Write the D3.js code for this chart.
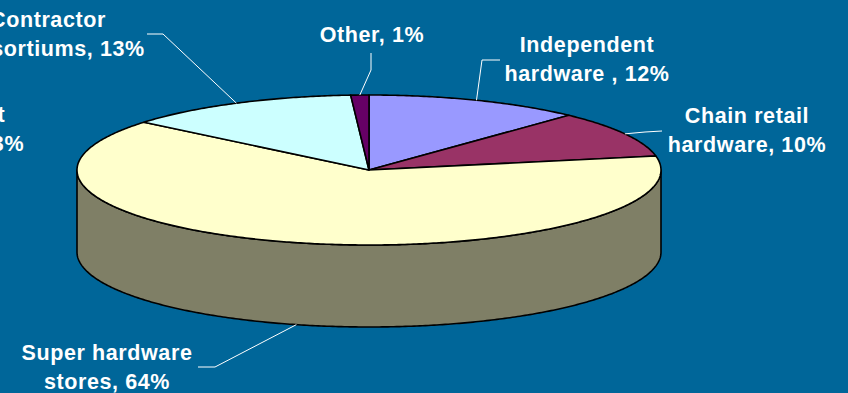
<!DOCTYPE html>
<html>
<head>
<meta charset="utf-8">
<script src="https://cdn.jsdelivr.net/npm/d3@7"></script>
<style>
  html, body { margin: 0; padding: 0; background: #006699; overflow: hidden; }
  svg { display: block; }
  text { font-family: "Liberation Sans", Arial, sans-serif; font-weight: bold; fill: #ffffff; }
</style>
</head>
<body>
<svg id="chart" width="848" height="393"></svg>
<script>
// Sales channel shares, clockwise from 12 o'clock
const categories = ["Independent hardware", "Chain retail hardware", "Super hardware stores", "Contractor consortiums", "Other"];
const shares = [12, 10, 64, 13, 1];
const labelLines = [
  ["Independent", "hardware , 12%"],
  ["Chain retail", "hardware, 10%"],
  ["Super hardware", "stores, 64%"],
  ["Contractor", "consortiums, 13%"],
  ["Other, 1%"]
];
// Label of a neighbouring chart that runs off the left edge of the slide
const edgeLabelLines = ["Direct", "sales, 3%"];

const topColors = ["#9999ff", "#993366", "#ffffcc", "#ccffff", "#660066"];
const sideColors = ["#4d4d80", "#4d1a33", "#7f7f66", "#668080", "#330033"];

// Geometry of the tilted disc
const cx = 369, cy = 170, rx = 292, ry = 75, depth = 82;

// Label layout: text centre, first baseline, and leader-line bend/end points
const layout = [
  { x: 587, y: 52, leader: [[482, 60], [500, 60]] },
  { x: 747, y: 123, leader: [[645, 132], [662, 131]] },
  { x: 107, y: 360, leader: [[215, 367], [198, 367]], bottom: true },
  { x: 48, y: 27, leader: [[163, 34], [147, 34]] },
  { x: 372, y: 42, leader: [[371, 70], [371, 53]] }
];
const lineGap = 28.5;

const svg = d3.select("#chart");

const pie = d3.pie().sort(null).value(d => d);
const arcs = pie(shares);

// angle measured clockwise from 12 o'clock, projected onto the ellipse
const px = a => cx + rx * Math.sin(a);
const py = (a, dz = 0) => cy - ry * Math.cos(a) + dz;
const angleSteps = (a0, a1) => {
  const n = Math.max(2, Math.ceil((a1 - a0) / 0.01));
  return d3.range(n + 1).map(i => a0 + (a1 - a0) * i / n);
};
const line = d3.line();

// Side walls: only the front half (90°..270°) faces the viewer
const front0 = Math.PI / 2, front1 = 3 * Math.PI / 2;
const sideG = svg.append("g");
arcs.forEach((a, i) => {
  const s = Math.max(a.startAngle, front0), e = Math.min(a.endAngle, front1);
  if (e <= s) return;
  const upper = angleSteps(s, e).map(t => [px(t), py(t)]);
  const lower = angleSteps(s, e).reverse().map(t => [px(t), py(t, depth)]);
  sideG.append("path")
    .attr("d", line(upper.concat(lower)) + "Z")
    .attr("fill", sideColors[i])
    .attr("stroke", "#000")
    .attr("stroke-width", 1.6)
    .attr("stroke-linejoin", "round");
});

// Top faces
const topG = svg.append("g");
arcs.forEach((a, i) => {
  const pts = [[cx, cy]].concat(angleSteps(a.startAngle, a.endAngle).map(t => [px(t), py(t)]));
  topG.append("path")
    .attr("d", line(pts) + "Z")
    .attr("fill", topColors[i])
    .attr("stroke", "#000")
    .attr("stroke-width", 1.6)
    .attr("stroke-linejoin", "round");
});

// Leader lines from each slice's mid-angle on the rim
const leaderG = svg.append("g");
arcs.forEach((a, i) => {
  const m = (a.startAngle + a.endAngle) / 2;
  const dz = layout[i].bottom ? depth : 0;
  const pts = [[px(m), py(m, dz)]].concat(layout[i].leader);
  leaderG.append("path")
    .attr("d", line(pts))
    .attr("fill", "none")
    .attr("stroke", "#ffffff")
    .attr("stroke-width", 1);
});

// Data labels
const labelG = svg.append("g").attr("font-size", 21.5).attr("letter-spacing", 0.6);
labelLines.forEach((lines, i) => {
  const t = labelG.append("text")
    .attr("text-anchor", "middle")
    .attr("x", layout[i].x)
    .attr("y", layout[i].y)
    .attr("aria-label", categories[i] + ", " + shares[i] + "%");
  lines.forEach((l, k) => {
    t.append("tspan").attr("x", layout[i].x).attr("y", layout[i].y + k * lineGap).text(l);
  });
});

const edge = labelG.append("text").attr("text-anchor", "middle");
edgeLabelLines.forEach((l, k) => {
  edge.append("tspan").attr("x", -27).attr("y", 122 + k * lineGap).text(l);
});
</script>
</body>
</html>
